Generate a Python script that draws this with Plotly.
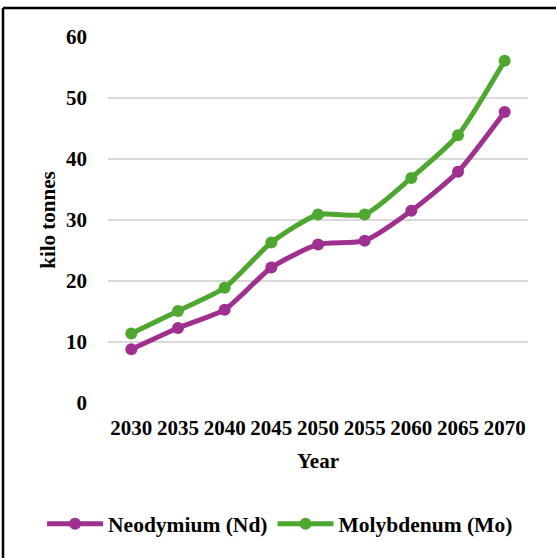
import plotly.graph_objects as go

years = [2030, 2035, 2040, 2045, 2050, 2055, 2060, 2065, 2070]
neodymium = [8.8, 12.3, 15.3, 22.2, 26.0, 26.6, 31.5, 37.9, 47.7]
molybdenum = [11.4, 15.1, 18.9, 26.3, 30.9, 30.9, 36.9, 43.9, 56.1]
y_ticks = [0, 10, 20, 30, 40, 50, 60]

FONT = "Liberation Serif"
FS = 21
PURPLE = "#A0308F"
GREEN = "#4EA72E"

fig = go.Figure()
fig.add_trace(go.Scatter(
    x=years, y=neodymium, name="<b>Neodymium (Nd)</b>", mode="lines+markers",
    line=dict(color=PURPLE, width=5, shape="spline", smoothing=0.6),
    marker=dict(color=PURPLE, size=12),
))
fig.add_trace(go.Scatter(
    x=years, y=molybdenum, name="<b>Molybdenum (Mo)</b>", mode="lines+markers",
    line=dict(color=GREEN, width=5, shape="spline", smoothing=0.6),
    marker=dict(color=GREEN, size=12),
))

fig.update_layout(
    width=556, height=558,
    margin=dict(l=108, r=28, t=37, b=155, autoexpand=False),
    paper_bgcolor="white", plot_bgcolor="white",
    font=dict(family=FONT, size=FS, color="black"),
    showlegend=True,
    legend=dict(orientation="h", x=-0.157, xanchor="left", y=-0.33, yanchor="middle",
                font=dict(family=FONT, size=21.5, color="black"), itemwidth=56,
                traceorder="normal", tracegroupgap=0),
    xaxis=dict(
        range=[2027.5, 2072.5], tickvals=years, ticktext=[f"<b>{y}</b>" for y in years],
        showgrid=False, zeroline=False, showline=False, ticks="", ticklabelstandoff=10,
        tickfont=dict(family=FONT, size=FS, color="black"),
        title=dict(text="<b>Year</b>", font=dict(family=FONT, size=FS, color="black"), standoff=14),
        fixedrange=True,
    ),
    yaxis=dict(
        range=[0, 60], tickvals=y_ticks, ticktext=[f"<b>{v}</b>" for v in y_ticks],
        showgrid=True, gridcolor="#D9D9D9", gridwidth=1.5, zeroline=False, showline=False,
        ticks="", ticklabelstandoff=20,
        tickfont=dict(family=FONT, size=FS, color="black"),
        title=dict(text="<b>kilo tonnes</b>", font=dict(family=FONT, size=FS, color="black"), standoff=4),
        fixedrange=True,
    ),
    shapes=[
        dict(type="line", xref="paper", yref="paper", x0=-0.25, x1=-0.25, y0=1.079, y1=-0.43,
             line=dict(color="black", width=2.5)),
        dict(type="line", xref="paper", yref="paper", x0=-0.25, x1=1.07, y0=1.079, y1=1.079,
             line=dict(color="black", width=2.5)),
    ],
)

fig.write_html("out.html")
